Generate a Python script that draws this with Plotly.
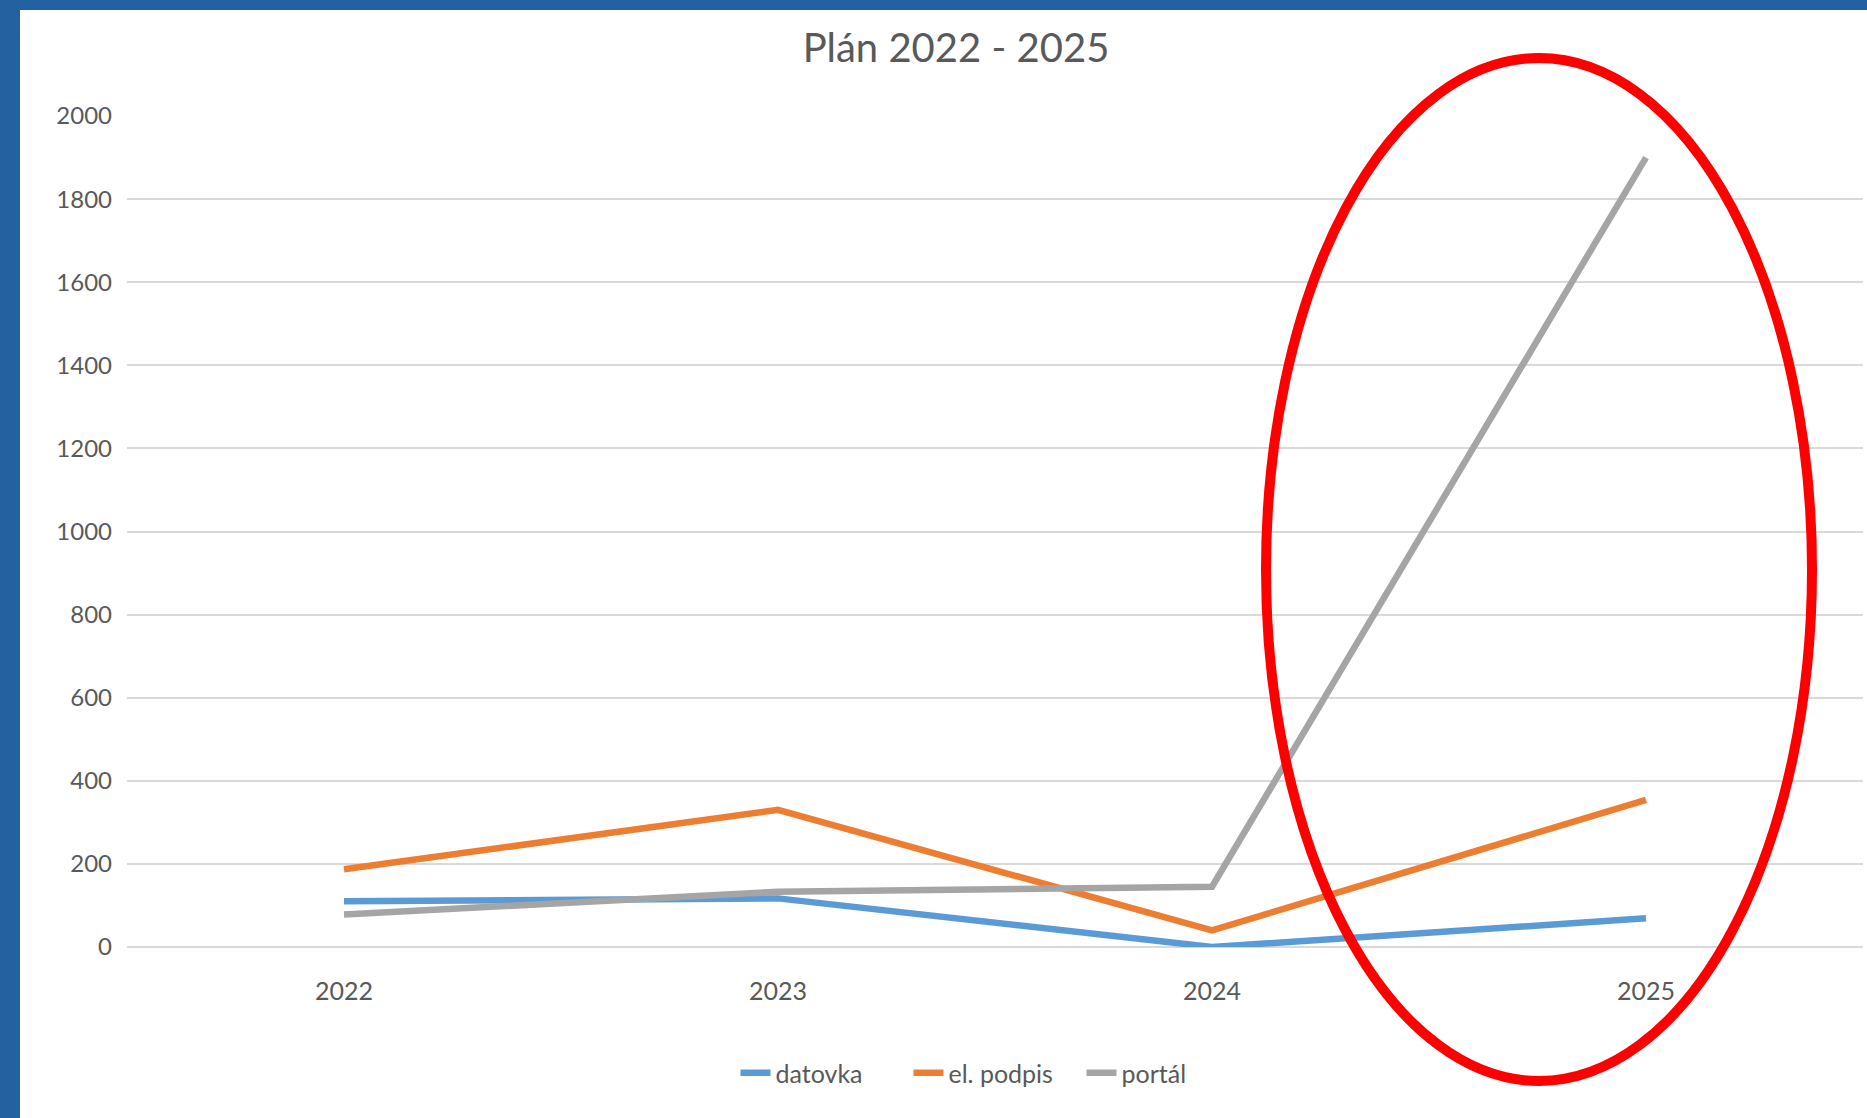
import plotly.graph_objects as go

years = ["2022", "2023", "2024", "2025"]
datovka = [110, 117, 0, 69]
el_podpis = [187, 330, 40, 354]
portal = [78, 133, 145, 1900]

series_names = ["datovka", "el. podpis", "portál"]
series_colors = ["#5B9BD5", "#ED7D31", "#A5A5A5"]
y_ticks = list(range(0, 2001, 200))

fig = go.Figure()
for name, vals, col in zip(series_names, [datovka, el_podpis, portal], series_colors):
    fig.add_trace(go.Scatter(x=years, y=vals, name=name, mode="lines",
                             line=dict(color=col, width=6.5)))

W, H = 1867, 1118
L, R, T, B = 127, 4, 116, 171
pw, ph = W - L - R, H - T - B

def px(x):
    return (x - L) / pw

def py(y):
    return (H - B - y) / ph

BLUE = "#2461A0"
shapes = [
    dict(type="rect", xref="paper", yref="paper", x0=px(-5), x1=px(20), y0=py(1130), y1=py(-5),
         fillcolor=BLUE, line=dict(width=0), layer="above"),
    dict(type="rect", xref="paper", yref="paper", x0=px(-5), x1=px(1875), y0=py(10), y1=py(-5),
         fillcolor=BLUE, line=dict(width=0), layer="above"),
    dict(type="circle", xref="paper", yref="paper", x0=px(1266), x1=px(1812), y0=py(1081), y1=py(58),
         line=dict(color="#FF0000", width=10), layer="above"),
]

fig.update_layout(
    width=W, height=H,
    margin=dict(l=L, r=R, t=T, b=B, pad=0),
    paper_bgcolor="white", plot_bgcolor="white",
    font=dict(family="Lato", color="#595959", size=25),
    title=dict(text="Plán 2022 - 2025", x=px(956), xref="paper", xanchor="center",
               y=1 - 48 / H, yref="container", yanchor="middle",
               font=dict(family="Lato", size=40, color="#595959")),
    xaxis=dict(type="category", range=[-0.5, 3.5], showgrid=False, showline=False, zeroline=False,
               ticks="", ticklabelstandoff=27, tickfont=dict(size=25, color="#595959")),
    yaxis=dict(range=[0, 2000], tickvals=y_ticks, showgrid=True, gridcolor="#D9D9D9", gridwidth=2,
               zeroline=True, zerolinecolor="#D9D9D9", zerolinewidth=2, showline=False,
               ticks="", ticklabelstandoff=14, tickfont=dict(size=24, color="#595959")),
    legend=dict(orientation="h", x=px(995), xanchor="center", y=py(1073), yanchor="middle",
                font=dict(size=25, color="#595959"), bgcolor="rgba(0,0,0,0)",
                itemwidth=30, entrywidth=128, entrywidthmode="pixels"),
    shapes=shapes,
    showlegend=True,
)

fig.write_html("out.html", config={"displayModeBar": False},
               post_script="document.body.style.margin='0';document.body.style.padding='0';")
